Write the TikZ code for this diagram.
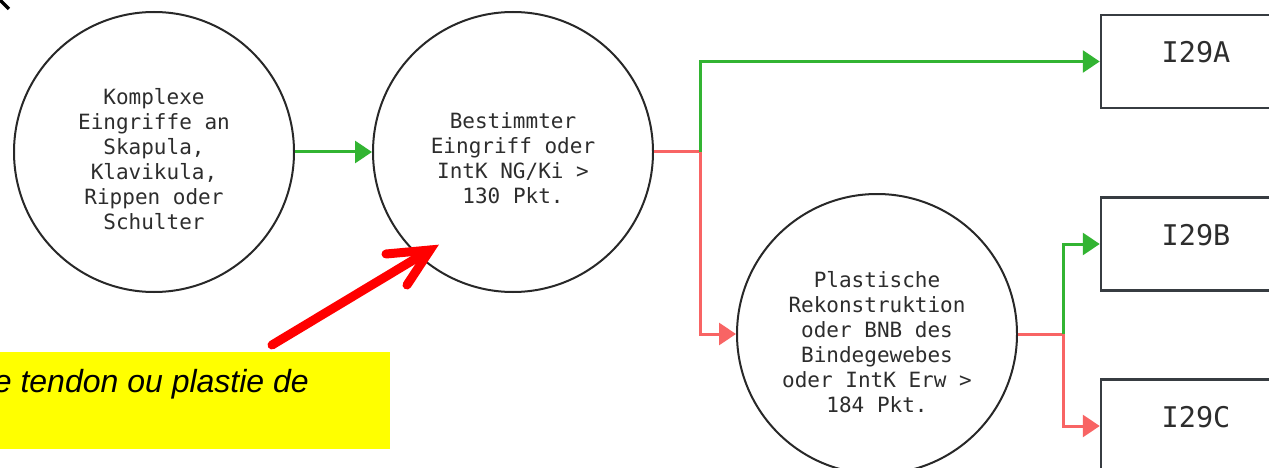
\documentclass[tikz,border=0pt]{standalone}
\usepackage{fontspec}
\setmainfont{Liberation Sans}
\newfontfamily\monofont{DejaVu Sans Mono}
\newfontfamily\annfont{Liberation Sans}
\usetikzlibrary{arrows.meta,calc}
\definecolor{gflow}{RGB}{50,180,50}
\definecolor{rflow}{RGB}{248,100,100}
\definecolor{circstroke}{RGB}{40,40,40}
\definecolor{boxstroke}{RGB}{55,60,65}
\definecolor{txtgray}{RGB}{45,45,45}
\definecolor{annred}{RGB}{255,0,0}
\definecolor{annyellow}{RGB}{255,255,0}
\tikzset{
  decision/.style={circle, draw=circstroke, line width=2pt, minimum size=280pt, inner sep=0pt},
  circtext/.style={font=\monofont\fontsize{21}{25}\selectfont, text=txtgray, align=center, inner sep=0pt},
  outbox/.style={rectangle, draw=boxstroke, line width=2.5pt, minimum width=190pt, minimum height=93pt, inner sep=0pt},
  outtext/.style={font=\monofont\fontsize{28.5}{30}\selectfont, text=txtgray, inner sep=0pt, anchor=base},
  garrow/.style={draw=gflow, line width=3pt, -{Triangle[length=17pt,width=22pt]}},
  rarrow/.style={draw=rflow, line width=3pt, -{Triangle[length=17pt,width=22pt]}},
  rline/.style={draw=rflow, line width=3pt},
  annot/.style={draw=annred, line width=9pt, line join=miter},
}
\begin{document}
\begin{tikzpicture}[x=1pt,y=-1pt]
\useasboundingbox (0,0) rectangle (1269,468);
\fill[white] (0,0) rectangle (1269,468);

% circles
\node[decision] (c1) at (154,152) {};
\node[decision] (c2) at (513,152) {};
\node[decision] (c3) at (877,334) {};
\node[circtext] (t1) at (154,159) {Komplexe\\Eingriffe an\\Skapula,\\Klavikula,\\Rippen oder\\Schulter};
\node[circtext] (t2) at (513,158) {Bestimmter\\Eingriff oder\\IntK NG/Ki >\\130 Pkt.};
\node[circtext] (t3) at (877,342) {Plastische\\Rekonstruktion\\oder BNB des\\Bindegewebes\\oder IntK Erw >\\184 Pkt.};

% boxes
\node[outbox] (bA) at (1196,61.5) {};
\node[outbox] (bB) at (1196,244) {};
\node[outbox] (bC) at (1196,426) {};
\node[outtext] (lA) at (1196,63) {I29A};
\node[outtext] (lB) at (1196,245) {I29B};
\node[outtext] (lC) at (1196,427) {I29C};

% junctions
\coordinate (j1) at (700,152);
\coordinate (j2) at (1063,334);

% connectors
\draw[garrow] (c1.east) -- (c2.west);
\draw[rline] (c2.east) -- (j1);
\draw[rarrow] (j1) |- (c3.west);
\draw[garrow] (j1) |- (bA.west);
\draw[rline] (c3.east) -- (j2);
\draw[rarrow] (j2) |- (bC.west);
\draw[garrow] (j2) |- (bB.west);

% annotation
\fill[annyellow] (0,352) rectangle (390,449);
\node[font=\annfont\itshape\fontsize{32}{36}\selectfont, inner sep=0pt, anchor=base east] (ann) at (309,392) {e tendon ou plastie de};
\coordinate (aS) at (272,345);
\coordinate (aT) at (430,250);
\draw[annot, line cap=round] (aS) -- (aT);
\draw[annot, line cap=round] (aT) ++(-44,4) -- (aT) -- ++(-23,35);

% top-left fragment
\draw[black, line width=3.5pt] (-1,-1) -- (9,9);
\end{tikzpicture}
\end{document}
